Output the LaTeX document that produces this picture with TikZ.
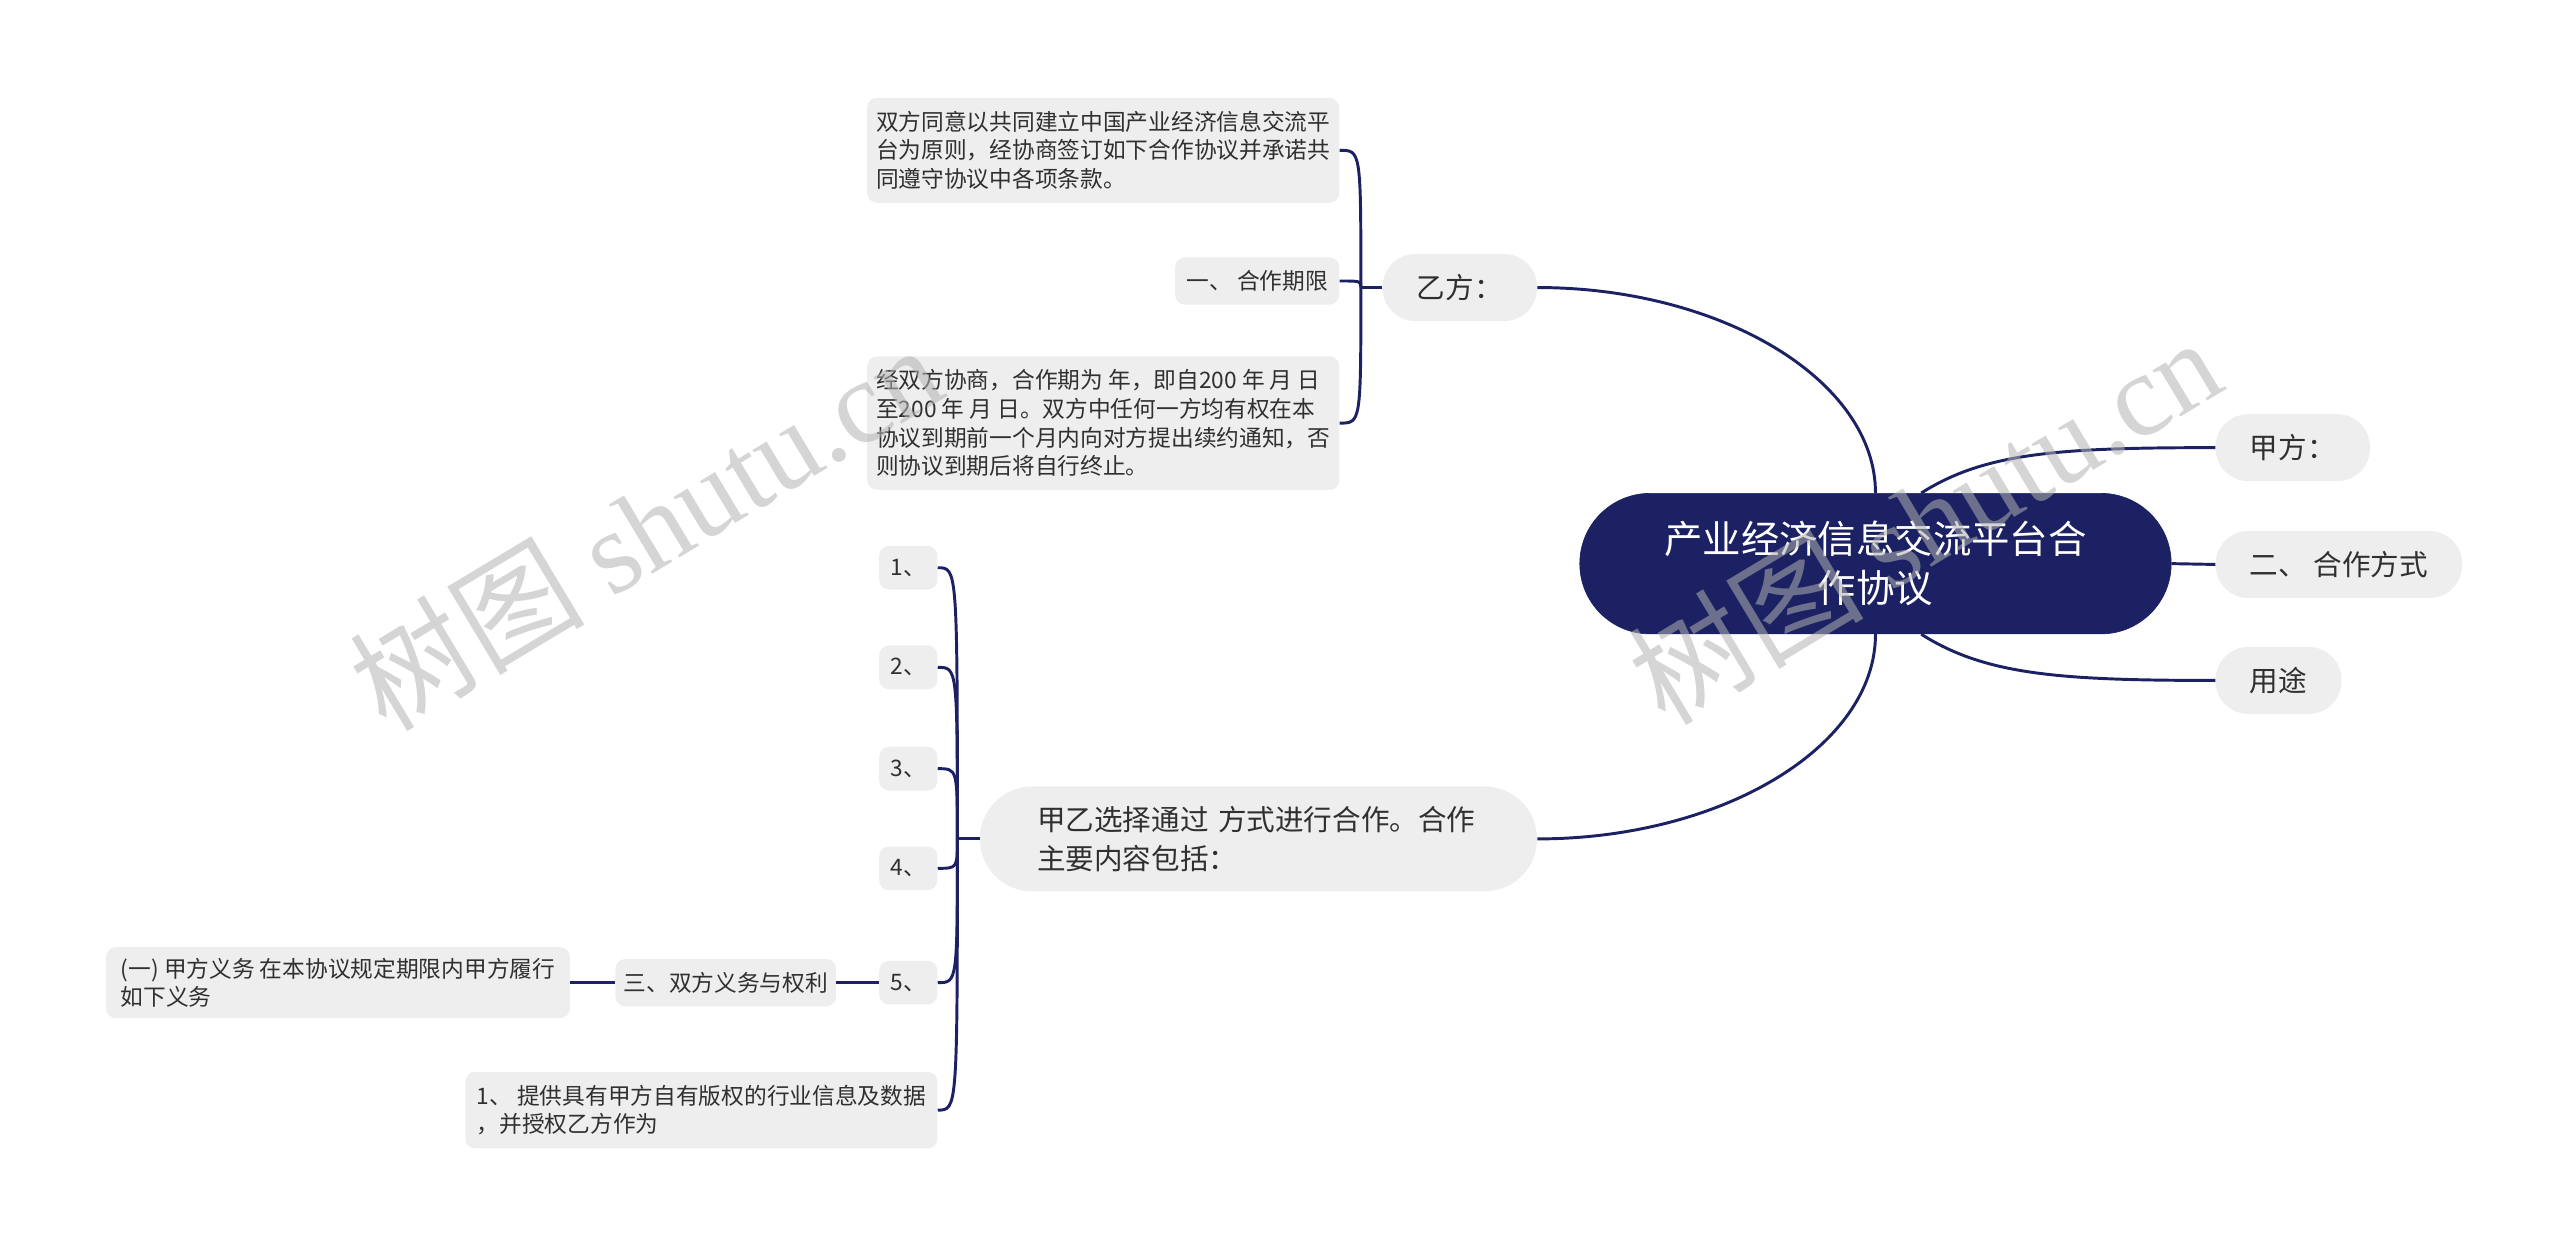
\documentclass[tikz,border=0pt]{standalone}
\usepackage{fontspec}
\setmainfont{Noto Sans CJK SC}
\newfontfamily\wmserif{Liberation Serif}
\definecolor{navy}{HTML}{1B2162}
\definecolor{boxgray}{HTML}{EEEEEE}
\definecolor{ink}{HTML}{303030}

\begin{document}
\begin{tikzpicture}[x=1pt,y=-1pt,
  topic/.style={fill=boxgray,text=ink,rounded corners=20pt,minimum height=41pt,inner xsep=21pt,font=\fontsize{17.5}{24}\selectfont},
  leaf/.style={fill=boxgray,text=ink,rounded corners=6pt,inner xsep=7pt,inner ysep=8pt,align=left,font=\fontsize{13.9}{17.6}\selectfont},
  link/.style={draw=navy,line width=1.8pt},
  wm/.style={text=gray!60,opacity=.55,rotate=31,font=\fontsize{72}{72}\selectfont}]
\useasboundingbox (0,0) rectangle (1567,763.3);

\node[fill=navy,draw=navy,text=white,rounded corners=43pt,minimum width=362pt,minimum height=86pt,align=center,font=\fontsize{23.5}{30}\selectfont] (root) at (1148,345) {产业经济信息交流平台合\\作协议};

\node[topic,anchor=west] (jiafang) at (1356,274) {甲方：};
\node[topic,anchor=west] (hezuo) at (1356,345.5) {二、 合作方式};
\node[topic,anchor=west] (yongtu) at (1356,416.5) {用途};
\node[topic,anchor=east] (yifang) at (941,176) {乙方：};
\node[topic,anchor=east,rounded corners=32pt,align=left,text width=271pt,inner xsep=35pt,inner ysep=12pt] (jiayi) at (941,513.5) {甲乙选择通过 方式进行合作。合作\\主要内容包括：};

\node[leaf,anchor=east,inner xsep=5.5pt] (tongyi) at (820,92) {双方同意以共同建立中国产业经济信息交流平\\台为原则，经协商签订如下合作协议并承诺共\\同遵守协议中各项条款。};
\node[leaf,anchor=east] (qixian) at (820,172) {一、 合作期限};
\node[leaf,anchor=east,inner xsep=5.5pt] (xieshang) at (820,259) {经双方协商，合作期为 年，即自200 年 月 日\\至200 年 月 日。双方中任何一方均有权在本\\协议到期前一个月内向对方提出续约通知，否\\则协议到期后将自行终止。};

\foreach \idx/\yy in {1/347.5,2/408.5,3/470.5,4/531.5,5/601.5}
  \node[leaf,anchor=east] (n\idx) at (574,\yy) {\idx{}、};
\node[leaf,anchor=east,inner xsep=5pt] (yiwuquanli) at (512,601.5) {三、双方义务与权利};
\node[leaf,anchor=east,inner xsep=9pt,inner ysep=6.5pt] (jiayiwu) at (349,601.5) {(一) 甲方义务 在本协议规定期限内甲方履行\\如下义务};
\node[leaf,anchor=east,inner xsep=7pt] (tigong) at (574,679.5) {1、 提供具有甲方自有版权的行业信息及数据\\，并授权乙方作为};

\draw[link] (root.north) .. controls (1148,233) and (1054,176) .. (yifang.east);
\draw[link] (root.south) .. controls (1148,457) and (1054,513.5) .. (jiayi.east);
\draw[link] ([xshift=28pt]root.north) .. controls (1215,277) and (1260,274) .. (jiafang.west);
\draw[link] ([xshift=28pt]root.south) .. controls (1215,413) and (1260,416.5) .. (yongtu.west);
\draw[link] (root.east) -- (hezuo.west);

\coordinate (yj) at (833,176);
\draw[link] (yifang.west) -- (yj);
\foreach \c in {tongyi,qixian,xieshang}
  \draw[link] (yj) .. controls (yj |- \c.east) and (yj |- \c.east) .. (\c.east);

\coordinate (jj) at (586,513.5);
\draw[link] (jiayi.west) -- (jj);
\foreach \c in {n1,n2,n3,n4,n5,tigong}
  \draw[link] (jj) .. controls (jj |- \c.east) and (jj |- \c.east) .. (\c.east);
\draw[link] (n5.west) -- (yiwuquanli.east);
\draw[link] (yiwuquanli.west) -- (jiayiwu.east);

\node[wm] (wmleft) at (395,322) {树图 {\wmserif shutu.cn}};
\node[wm] (wmright) at (1178,318) {树图 {\wmserif shutu.cn}};
\end{tikzpicture}
\end{document}
